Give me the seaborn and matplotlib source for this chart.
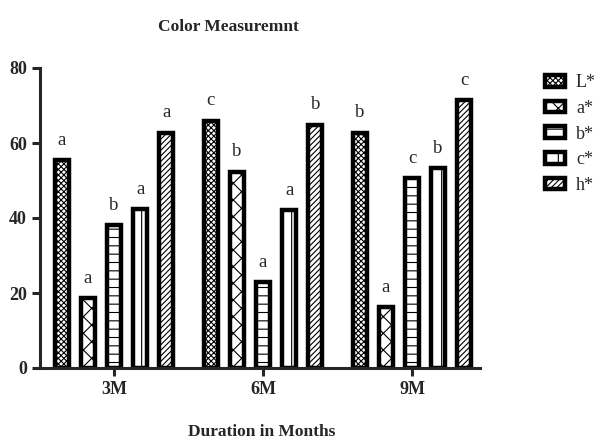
import pandas as pd
import seaborn as sns
import matplotlib.pyplot as plt

# ----- Data -----
months = ['3M', '6M', '9M']
series = ['L*', 'a*', 'b*', 'c*', 'h*']
L_vals = [55.5, 66.0, 62.8]
a_vals = [18.7, 52.4, 16.3]
b_vals = [38.2, 22.9, 50.7]
c_vals = [42.4, 42.1, 53.3]
h_vals = [62.8, 64.9, 71.5]
L_letters = ['a', 'c', 'b']
a_letters = ['a', 'b', 'a']
b_letters = ['b', 'a', 'c']
c_letters = ['a', 'a', 'b']
h_letters = ['a', 'b', 'c']

values = [L_vals, a_vals, b_vals, c_vals, h_vals]
letters = [L_letters, a_letters, b_letters, c_letters, h_letters]
hatches = ['xxxxxx', 'xx', '--', '|', '//////']

df = pd.DataFrame([(m, s, v) for s, vals in zip(series, values) for m, v in zip(months, vals)],
                  columns=['Month', 'Param', 'Value'])

# ----- Style -----
sns.set_style('ticks')
plt.rcParams['font.family'] = ['Liberation Serif', 'DejaVu Serif']
plt.rcParams['hatch.linewidth'] = 0.8

fig = plt.figure(figsize=(6.07, 4.41), dpi=100)
ax = fig.add_axes([40 / 607, 73 / 441, 440 / 607, 300 / 441])

sns.barplot(data=df, x='Month', y='Value', hue='Param', order=months, hue_order=series,
            palette=['white'] * 5, width=0.875, gap=0.45, edgecolor='black',
            linewidth=3.2, ax=ax, legend=False)

for cont, hatch, labs in zip(ax.containers, hatches, letters):
    for bar, lab in zip(cont, labs):
        bar.set_hatch(hatch)
        ax.text(bar.get_x() + bar.get_width() / 2, bar.get_height() + 3, lab,
                ha='center', va='bottom', fontsize=13.5)

ax.set_xlim(-0.497, 2.456)
ax.set_ylim(0, 80)
ax.set_yticks([0, 20, 40, 60, 80])
for side in ['top', 'right']:
    ax.spines[side].set_visible(False)
for side in ['left', 'bottom']:
    ax.spines[side].set_linewidth(2.2)
ax.tick_params(width=2.2, length=6)
for lbl in ax.get_xticklabels() + ax.get_yticklabels():
    lbl.set_fontweight('bold')
    lbl.set_fontsize(13)
ax.set_xlabel('')
ax.set_ylabel('')

fig.text(228 / 607, 1 - 27 / 441, 'Color Measuremnt', ha='center', va='center',
         fontsize=12.5, fontweight='bold')
fig.text(262 / 607, 1 - 432 / 441, 'Duration in Months', ha='center', va='center',
         fontsize=12.5, fontweight='bold')

handles = [cont[0] for cont in ax.containers]
fig.legend(handles, series, loc='upper left', bbox_to_anchor=(538 / 607, 1 - 67 / 441),
           frameon=False, fontsize=13, handlelength=1.1, handleheight=0.6,
           labelspacing=0.48, handletextpad=0.6, borderaxespad=0)

fig.savefig('out.png', dpi=100)
